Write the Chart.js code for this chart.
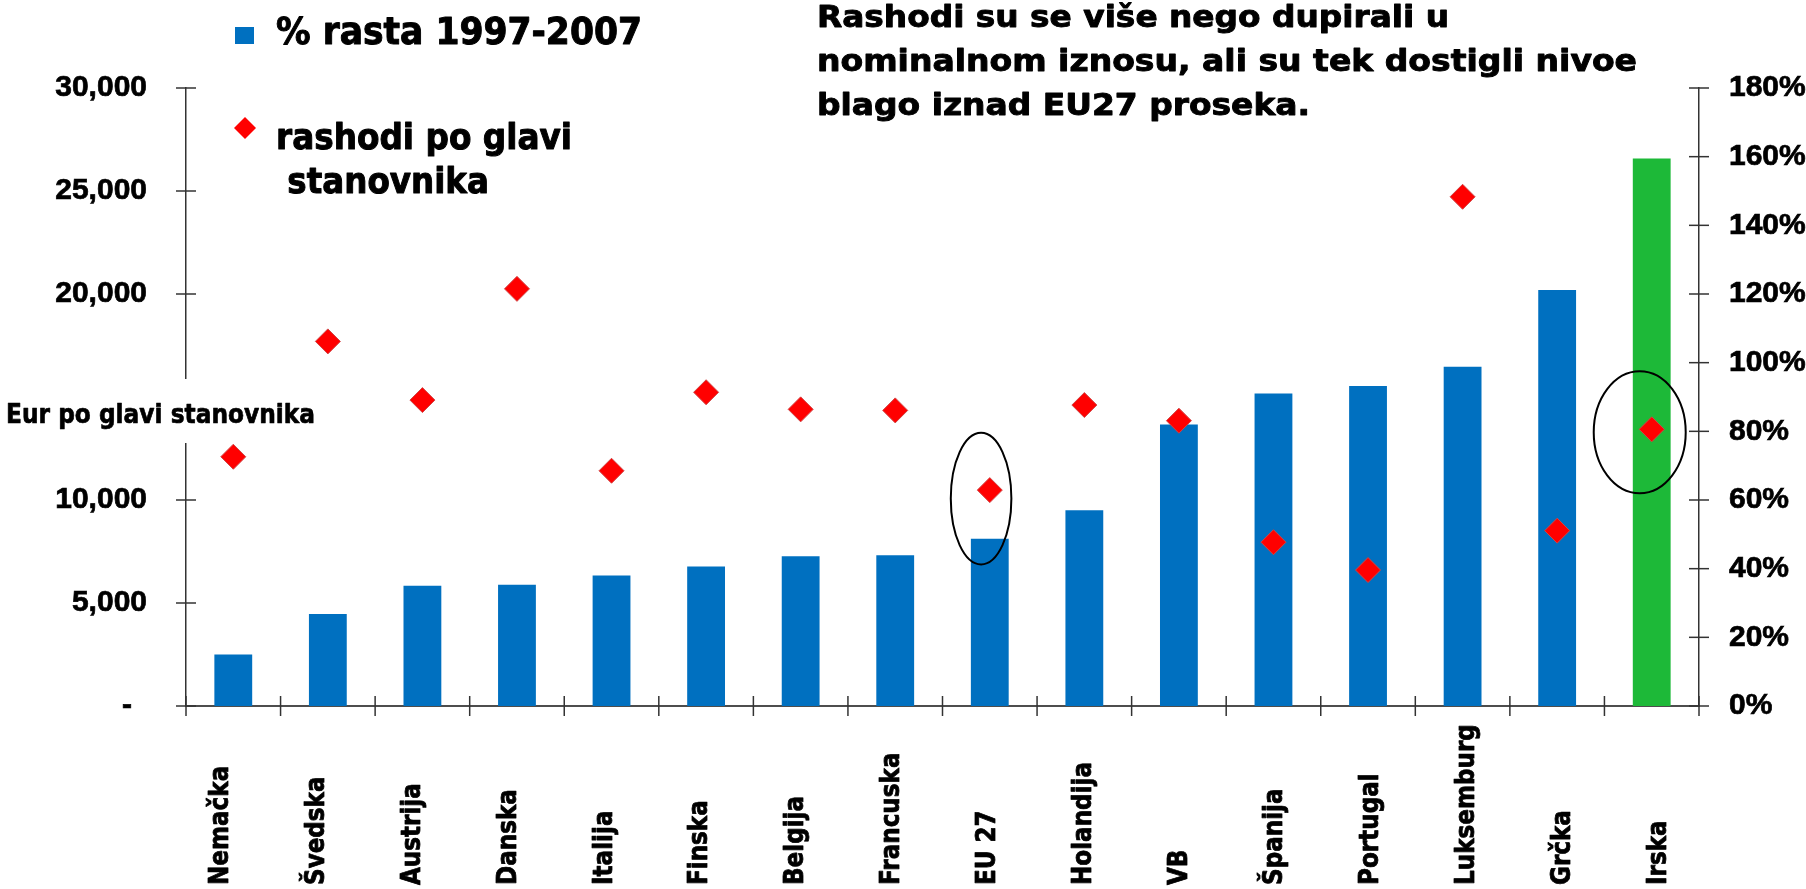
<!DOCTYPE html>
<html>
<head>
<meta charset="utf-8">
<script src="https://cdn.jsdelivr.net/npm/chart.js@4.4.1/dist/chart.umd.min.js"></script>
<style>
  html, body { margin: 0; padding: 0; background: #fff; overflow: hidden; }
  canvas { display: block; }
</style>
</head>
<body>
<canvas id="c" width="1806" height="889"></canvas>
<script>
// ---- data ----
const categories = ['Nemačka', 'Švedska', 'Austrija', 'Danska', 'Italija', 'Finska', 'Belgija', 'Francuska',
  'EU 27', 'Holandija', 'VB', 'Španija', 'Portugal', 'Luksemburg', 'Grčka', 'Irska'];
const growthPct = [15, 26.8, 35, 35.3, 38, 40.6, 43.6, 43.9, 48.7, 57, 82, 91, 93.2, 98.8, 121.2, 159.5];
const spendingPerCapita = [12100, 17700, 14850, 20250, 11420, 15230, 14400, 14350, 10480, 14610, 13850, 7950, 6600, 24720, 8510, 13430];
const leftTickLabels = ['-\u2002', '5,000', '10,000', '', '20,000', '25,000', '30,000'];
const rightTickLabels = ['0%', '20%', '40%', '60%', '80%', '100%', '120%', '140%', '160%', '180%'];
const seriesNames = ['% rasta 1997-2007', 'rashodi po glavi', ' stanovnika'];
const titleLines = ['Rashodi su se više nego dupirali u', 'nominalnom iznosu, ali su tek dostigli nivoe', 'blago iznad EU27 proseka.'];
const leftAxisTitle = 'Eur po glavi stanovnika';
const highlightCategory = 'Irska';
const circledCategories = ['EU 27', 'Irska'];

// ---- styles ----
const BLUE = '#0070C0', GREEN = '#1DB938', RED = '#FF0000';
const TXT = '"DejaVu Sans", Verdana, sans-serif';

function fitText(ctx, text, x, y, size, width, stroke) {
  ctx.save();
  ctx.font = 'bold ' + size + 'px ' + TXT;
  const m = ctx.measureText(text).width;
  ctx.translate(x, y);
  ctx.scale(width / m, 1);
  ctx.textAlign = 'left';
  ctx.textBaseline = 'alphabetic';
  ctx.fillStyle = '#000';
  ctx.fillText(text, 0, 0);
  ctx.strokeStyle = '#000';
  ctx.lineWidth = stroke;
  ctx.lineJoin = 'round';
  ctx.strokeText(text, 0, 0);
  ctx.restore();
}

const ellipseStyle = {
  'EU 27': { dx: -8.7, dy: 8.5, rx: 30.3, ry: 65.8 },
  'Irska': { dx: -12, dy: 3, rx: 46, ry: 61 }
};

const decor = {
  id: 'decor',
  afterDatasetsDraw(chart) {
    const ctx = chart.ctx;
    const meta = chart.getDatasetMeta(0);
    ctx.save();
    ctx.strokeStyle = '#000';
    ctx.lineWidth = 2;
    circledCategories.forEach(cat => {
      const i = categories.indexOf(cat);
      const p = meta.data[i];
      const s = ellipseStyle[cat];
      ctx.beginPath();
      ctx.ellipse(p.x + s.dx, p.y + s.dy, s.rx, s.ry, 0, 0, Math.PI * 2);
      ctx.stroke();
    });
    ctx.restore();
  },
  afterDraw(chart) {
    const ctx = chart.ctx;
    const ca = chart.chartArea;
    const xs = chart.scales.x, yL = chart.scales.yL, yR = chart.scales.yR;
    ctx.save();
    ctx.strokeStyle = '#333';
    ctx.lineWidth = 1.5;
    const seg = (x1, y1, x2, y2) => { ctx.beginPath(); ctx.moveTo(x1, y1); ctx.lineTo(x2, y2); ctx.stroke(); };
    yL.ticks.forEach(t => { const py = yL.getPixelForValue(t.value); seg(ca.left - 10, py, ca.left + 10, py); });
    yR.ticks.forEach(t => { const py = yR.getPixelForValue(t.value); seg(ca.right - 10, py, ca.right + 10, py); });
    const n = categories.length;
    const half = (xs.getPixelForValue(1) - xs.getPixelForValue(0)) / 2;
    for (let i = 0; i <= n; i++) {
      const px = i < n ? xs.getPixelForValue(i) - half : xs.getPixelForValue(n - 1) + half;
      seg(px, ca.bottom - 10, px, ca.bottom + 10);
    }
    ctx.restore();

    // left axis title box (breaks the axis line)
    ctx.save();
    ctx.fillStyle = '#fff';
    ctx.fillRect(0, 379, 322, 64);
    ctx.restore();
    fitText(ctx, leftAxisTitle, 6, 423, 27, 309, 0.7);

    // category labels, rotated
    ctx.save();
    ctx.fillStyle = '#000';
    ctx.strokeStyle = '#000';
    ctx.lineWidth = 0.8;
    ctx.lineJoin = 'round';
    ctx.font = 'bold 27px ' + TXT;
    categories.forEach((c, i) => {
      const cx = xs.getPixelForValue(i) - 12 + i * 19 / 15;
      ctx.save();
      ctx.translate(cx, 885);
      ctx.rotate(-Math.PI / 2);
      ctx.scale(0.855, 1);
      ctx.textAlign = 'left';
      ctx.textBaseline = 'middle';
      ctx.fillText(c, 0, 0);
      ctx.strokeText(c, 0, 0);
      ctx.restore();
    });
    ctx.restore();

    // legend
    ctx.save();
    ctx.fillStyle = BLUE;
    ctx.fillRect(235, 27, 19, 17);
    ctx.fillStyle = RED;
    ctx.beginPath();
    ctx.moveTo(245, 117); ctx.lineTo(256, 128); ctx.lineTo(245, 139); ctx.lineTo(234, 128); ctx.closePath();
    ctx.fill();
    ctx.restore();
    fitText(ctx, seriesNames[0], 276, 44, 38, 366, 1);
    fitText(ctx, seriesNames[1], 276, 149, 36, 296, 1);
    fitText(ctx, seriesNames[2], 276, 193, 36, 213, 1);

    // title
    fitText(ctx, titleLines[0], 817, 27, 30, 632, 0.9);
    fitText(ctx, titleLines[1], 817, 71, 30, 820, 0.9);
    fitText(ctx, titleLines[2], 817, 115, 30, 493, 0.9);
  }
};

const tickFont = { family: '"Liberation Sans", Arial, sans-serif', weight: 'bold', size: 30 };

new Chart(document.getElementById('c'), {
  data: {
    labels: categories,
    datasets: [
      {
        type: 'line',
        label: seriesNames[1] + seriesNames[2],
        data: spendingPerCapita,
        yAxisID: 'yL',
        showLine: false,
        pointStyle: 'rectRot',
        pointRadius: 12.5,
        pointBackgroundColor: RED,
        pointBorderColor: '#d04545',
        pointBorderWidth: 1,
        order: 0
      },
      {
        type: 'bar',
        label: seriesNames[0],
        data: growthPct,
        yAxisID: 'yR',
        backgroundColor: categories.map(c => c === highlightCategory ? GREEN : BLUE),
        categoryPercentage: 1,
        barPercentage: 0.4,
        order: 1
      }
    ]
  },
  options: {
    responsive: false,
    devicePixelRatio: 1,
    animation: false,
    layout: { padding: { top: 88, left: 0, right: 0, bottom: 0 } },
    plugins: { legend: { display: false }, tooltip: { enabled: false }, title: { display: false } },
    scales: {
      x: {
        type: 'category',
        offset: true,
        grid: { display: false, drawTicks: false },
        border: { display: true, color: '#4d4d4d', width: 2 },
        ticks: { display: false },
        afterFit(s) { s.height = 183; }
      },
      yL: {
        position: 'left',
        min: 0, max: 30000,
        grid: { display: false, drawTicks: false },
        border: { display: true, color: '#333', width: 1.5 },
        ticks: { stepSize: 5000, padding: 39, color: '#000', font: tickFont,
          textStrokeColor: '#000', textStrokeWidth: 0.7,
          callback: (v, i) => leftTickLabels[i] },
        afterFit(s) { s.width = 186; }
      },
      yR: {
        position: 'right',
        min: 0, max: 180,
        grid: { display: false, drawTicks: false },
        border: { display: true, color: '#333', width: 1.5 },
        ticks: { stepSize: 20, padding: 30, color: '#000', font: tickFont,
          textStrokeColor: '#000', textStrokeWidth: 0.7,
          callback: (v, i) => rightTickLabels[i] },
        afterFit(s) { s.width = 107; }
      }
    }
  },
  plugins: [decor]
});
</script>
</body>
</html>
